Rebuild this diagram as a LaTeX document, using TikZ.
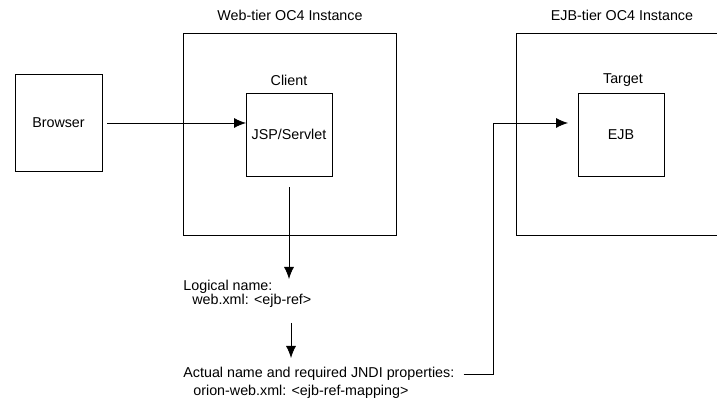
\documentclass[tikz,border=0pt]{standalone}
\usepackage{fontspec}
\setmainfont{Liberation Sans}
\usepackage{tikz}
\usetikzlibrary{
    calc,
    arrows.meta
}
\tikzset{
    box/.style={draw, line width=0.7pt, minimum width=2.58cm, minimum height=2.49cm, inner sep=0pt},
    txt/.style={inner sep=0pt, anchor=base west}
}

\begin{document}
\begin{tikzpicture}[x=0.03cm, y=-0.03cm, line width=0.7pt,
        >={Latex[length=0.36cm,width=0.3cm]},
        font=\fontsize{12.2}{14}\selectfont]
        \useasboundingbox (0,0) rectangle (717,400);

        % tier frames
        \draw (183,33) rectangle (396,235);
        \draw (717,33) -- (516,33) -- (516,235) -- (717,235);
        \draw (290,15) node(webtier){Web-tier OC4 Instance};
        \draw (622,15) node(ejbtier){EJB-tier OC4 Instance};

        % components
        \draw (58.5,123) node[box, minimum width=2.61cm, minimum height=2.91cm](browser){Browser};
        \draw (289,134.5) node[box](jsp){JSP/Servlet};
        \draw (621,134.5) node[box](ejb){EJB};
        \draw (289,80) node(client){Client};
        \draw (623,80) node(target){Target};

        % descriptor texts
        \draw (183,291) node[txt](logical){Logical name:};
        \draw (192,305) node[txt](webxml){web.xml: <ejb-ref>};
        \draw (183,378) node[txt](actual){Actual name and required JNDI properties:};
        \draw (193,396) node[txt](orion){orion-web.xml: <ejb-ref-mapping>};

        \coordinate (down1) at (289,279);
        \coordinate (up2)   at (291,323);
        \coordinate (down2) at (291,358);
        \coordinate (bend)  at (493,123);
        \coordinate (jspin) at (246,123);
        \coordinate (ejbin) at (568,123);

        \draw[->] ([xshift=0.15cm]browser.east) to (jspin);
        \draw[->] ([yshift=-0.33cm]jsp.south) to (down1);
        \draw[->] (up2) to (down2);
        \draw[->] ([xshift=0.27cm]actual.east |- 0,374) -| (bend) to (ejbin);
    \end{tikzpicture}
\end{document}
